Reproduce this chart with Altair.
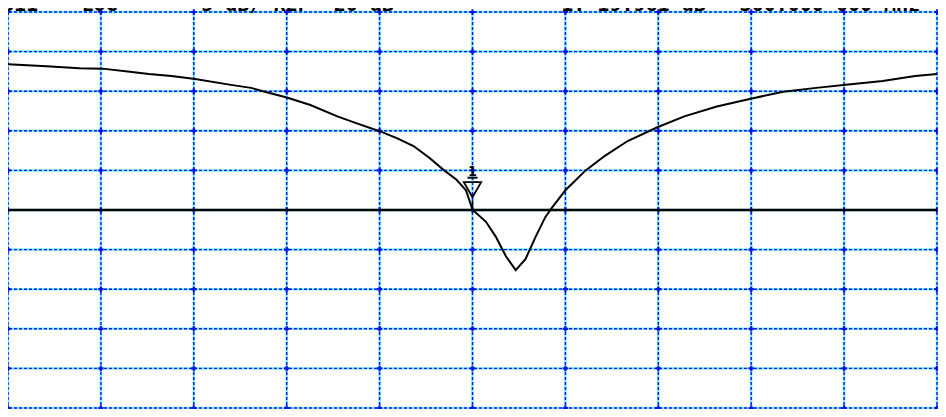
import altair as alt
import pandas as pd

# Trace data (frequency MHz, S11 dB)
freq = [200.0, 208.3, 215.4, 220.3, 226.7, 230.3, 235.2, 240.3, 248.0, 252.3,
        255.3, 260.2, 265.1, 270.9, 275.1, 280.0, 283.7, 287.3, 290.7, 293.7,
        296.5, 298.6, 300.0, 302.9, 305.0, 307.2, 309.3, 311.4, 313.6, 315.7,
        317.2, 320.0, 324.3, 328.5, 333.4, 339.8, 345.6, 352.6, 359.9, 366.9,
        374.0, 380.4, 388.3, 395.3, 400.0]
s11 = [-1.59, -1.84, -2.09, -2.15, -2.59, -2.84, -3.08, -3.46, -4.20, -4.58,
       -5.07, -5.82, -6.75, -8.18, -9.06, -10.05, -10.92, -11.92, -13.41, -14.90,
       -16.14, -17.51, -19.96, -21.49, -23.36, -25.85, -27.59, -26.22, -23.36, -20.87,
       -19.63, -17.51, -15.03, -13.16, -11.29, -9.55, -8.18, -6.94, -5.95, -5.07,
       -4.58, -4.20, -3.71, -3.08, -2.84]

freq_ticks = [200, 220, 240, 260, 280, 300, 320, 340, 360, 380, 400]
db_ticks = [5, 0, -5, -10, -15, -20, -25, -30, -35, -40, -45]
ref_level = [-20]
marker_freq = [300.0]
marker_db = [-19.96]
header_x = [198.7, 215.8, 241.6, 319.1, 357.5]
header_text = ["S11", "LOG", "5 dB/ REF -20 dB", "1:-19.961 dB", "300.000 000 MHz"]

xs = alt.Scale(domain=[200, 400], nice=False, zero=False)
ys = alt.Scale(domain=[-45, 5], nice=False, zero=False)

trace = pd.DataFrame({"f": freq, "db": s11})
vgrid = pd.DataFrame({"f": freq_ticks})
hgrid = pd.DataFrame({"db": db_ticks})
ref = pd.DataFrame({"db": ref_level})
mk = pd.DataFrame({"f": marker_freq, "db": marker_db, "label": ["1"]})
hdr = pd.DataFrame({"f": header_x, "t": header_text})
inter = pd.DataFrame([(f, d) for f in freq_ticks for d in db_ticks], columns=["f", "db"])

X = lambda: alt.X("f:Q", scale=xs, axis=None)
Y = lambda: alt.Y("db:Q", scale=ys, axis=None)

v_cyan = alt.Chart(vgrid).mark_rule(color="#20e8ff", strokeWidth=2.5, opacity=0.6).encode(x=X())
v_blue = alt.Chart(vgrid).mark_rule(color="#1010f0", strokeWidth=1.4, strokeDash=[3, 2]).encode(x=X())
h_cyan = alt.Chart(hgrid).mark_rule(color="#20e8ff", strokeWidth=2.5, opacity=0.6).encode(y=Y())
h_blue = alt.Chart(hgrid).mark_rule(color="#1010f0", strokeWidth=1.4, strokeDash=[3, 2]).encode(y=Y())
dots = alt.Chart(inter).mark_point(shape="cross", size=30, color="#0808e0", filled=True, opacity=0.9).encode(x=X(), y=Y())

ref_line = alt.Chart(ref).mark_rule(color="black", strokeWidth=2.5).encode(y=Y())
line = alt.Chart(trace).mark_line(color="black", strokeWidth=2, interpolate="linear").encode(x=X(), y=Y())

stem = alt.Chart(mk).mark_rule(color="black", strokeWidth=1.4).encode(
    x=X(), y=Y(), y2=alt.Y2("db2:Q")).transform_calculate(db2="datum.db + 1.2")
tri = alt.Chart(mk).mark_point(shape="triangle-down", size=300, color="black", strokeWidth=1.8,
                              filled=False, opacity=1, yOffset=-20).encode(x=X(), y=Y())
tri_bar = alt.Chart(mk).mark_tick(color="black", thickness=2, size=10, orient="horizontal",
                                  opacity=1, yOffset=-32).encode(x=X(), y=Y())
mk_label = alt.Chart(mk).mark_text(font="DejaVu Sans Mono", fontWeight="bold", fontSize=14,
                                   color="black", baseline="alphabetic", yOffset=-34).encode(x=X(), y=Y(), text="label:N")

header = alt.Chart(hdr).mark_text(font="DejaVu Sans Mono", fontWeight="bold", fontSize=20,
                                  color="black", align="left", baseline="alphabetic").encode(
    x=X(), y=alt.value(-1.5), text="t:N")

chart = alt.layer(v_cyan, h_cyan, v_blue, h_blue, dots, ref_line, line, stem, tri, tri_bar, mk_label, header).properties(
    width=929, height=396,
    autosize=alt.AutoSizeParams(type="none"),
    padding={"left": 0, "top": 4, "right": 1, "bottom": 1},
    background="white",
).configure_view(stroke=None)

chart.save("out.html", embed_options={"renderer": "svg", "actions": False})
